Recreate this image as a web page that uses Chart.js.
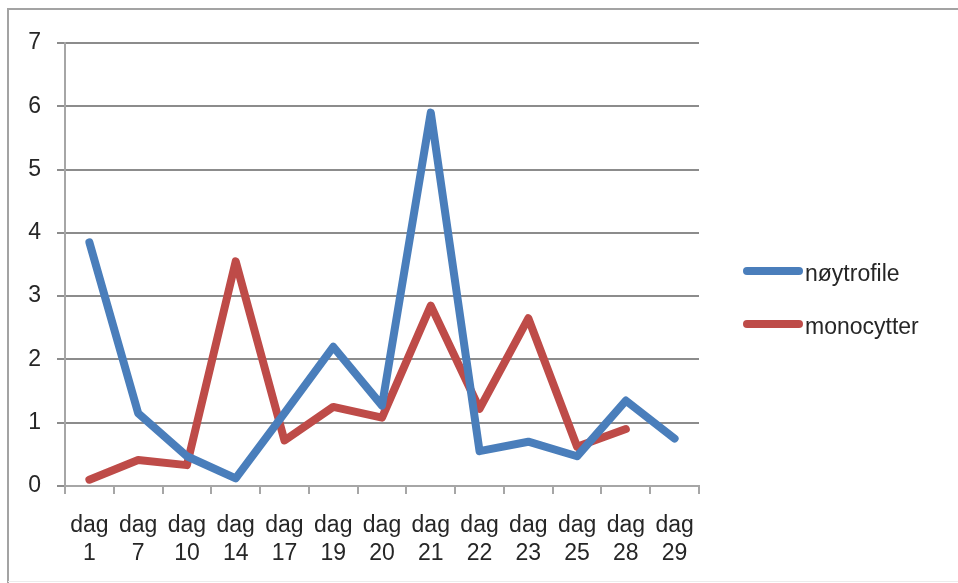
<!DOCTYPE html>
<html>
<head>
<meta charset="utf-8">
<script src="https://cdn.jsdelivr.net/npm/chart.js@4/dist/chart.umd.min.js"></script>
<style>
  html, body { margin: 0; padding: 0; background: #ffffff; }
  #wrap { width: 958px; height: 583px; }
</style>
</head>
<body>
<div id="wrap"><canvas id="chart" width="958" height="583"></canvas></div>
<script>
// Sampling days and measured counts per series
const days = ['1', '7', '10', '14', '17', '19', '20', '21', '22', '23', '25', '28', '29'];
const noytrofile = [3.85, 1.15, 0.47, 0.12, 1.15, 2.2, 1.27, 5.9, 0.55, 0.7, 0.47, 1.35, 0.75];
const monocytter = [0.1, 0.41, 0.33, 3.55, 0.72, 1.25, 1.08, 2.85, 1.22, 2.65, 0.62, 0.9, null];
const yTicks = [0, 1, 2, 3, 4, 5, 6, 7];

const seriesNames = ['nøytrofile', 'monocytter'];
const seriesColors = ['#4a7ebb', '#be4b48'];
const FONT = '"Liberation Sans", Arial, sans-serif';
const TEXT = '#262626';

// Gray frame around the whole chart
const framePlugin = {
  id: 'frame',
  beforeDraw(chart) {
    const c = chart.ctx;
    c.save();
    c.fillStyle = '#ffffff';
    c.fillRect(0, 0, chart.width, chart.height);
    c.strokeStyle = '#a3a3a3';
    c.lineWidth = 2;
    c.beginPath();
    c.moveTo(8, chart.height);
    c.lineTo(8, 9);
    c.lineTo(chart.width, 9);
    c.stroke();
    c.strokeStyle = '#ececec';
    c.lineWidth = 1;
    c.beginPath();
    c.moveTo(8, chart.height - 1.5);
    c.lineTo(chart.width, chart.height - 1.5);
    c.stroke();
    c.restore();
  }
};

// Legend on the right: line swatch followed by the series name
const sideLegend = {
  id: 'sideLegend',
  afterDraw(chart) {
    const c = chart.ctx;
    const rows = [{ y: 271 }, { y: 324 }];
    c.save();
    chart.data.datasets.forEach((ds, i) => {
      const y = rows[i].y;
      c.strokeStyle = ds.borderColor;
      c.lineWidth = 8;
      c.lineCap = 'round';
      c.beginPath();
      c.moveTo(747, y);
      c.lineTo(799, y);
      c.stroke();
      c.fillStyle = TEXT;
      c.font = '23px ' + FONT;
      c.textBaseline = 'middle';
      c.textAlign = 'left';
      c.fillText(ds.label, 805, y + 4);
    });
    c.restore();
  }
};

new Chart(document.getElementById('chart'), {
  type: 'line',
  data: {
    labels: days.map(d => ['dag', d]),
    datasets: [
      { label: seriesNames[0], data: noytrofile, borderColor: seriesColors[0], backgroundColor: seriesColors[0] },
      { label: seriesNames[1], data: monocytter, borderColor: seriesColors[1], backgroundColor: seriesColors[1] }
    ]
  },
  options: {
    responsive: false,
    animation: false,
    devicePixelRatio: 1,
    layout: { padding: { left: 0, right: 259, top: 43, bottom: 0 } },
    elements: {
      line: { borderWidth: 8, tension: 0, borderJoinStyle: 'round', borderCapStyle: 'round' },
      point: { radius: 0, hoverRadius: 0 }
    },
    plugins: { legend: { display: false }, tooltip: { enabled: false } },
    scales: {
      x: {
        offset: true,
        grid: { offset: true, drawOnChartArea: false, drawTicks: true, tickLength: 8, color: '#a6a6a6', lineWidth: 2 },
        border: { display: true, color: '#a6a6a6', width: 2 },
        ticks: { color: TEXT, font: { family: FONT, size: 23, lineHeight: 1.22 }, padding: 18, maxRotation: 0, autoSkip: false },
        afterFit(s) { s.height = 97; }
      },
      y: {
        min: 0,
        max: 7,
        afterBuildTicks(s) { s.ticks = yTicks.map(v => ({ value: v })); },
        grid: { color: '#8c8c8c', lineWidth: 2, tickLength: 8, drawTicks: true },
        border: { display: true, color: '#a6a6a6', width: 2 },
        ticks: { color: TEXT, font: { family: FONT, size: 23 }, padding: 16 },
        afterFit(s) { s.width = 65; }
      }
    }
  },
  plugins: [framePlugin, sideLegend]
});
</script>
</body>
</html>
